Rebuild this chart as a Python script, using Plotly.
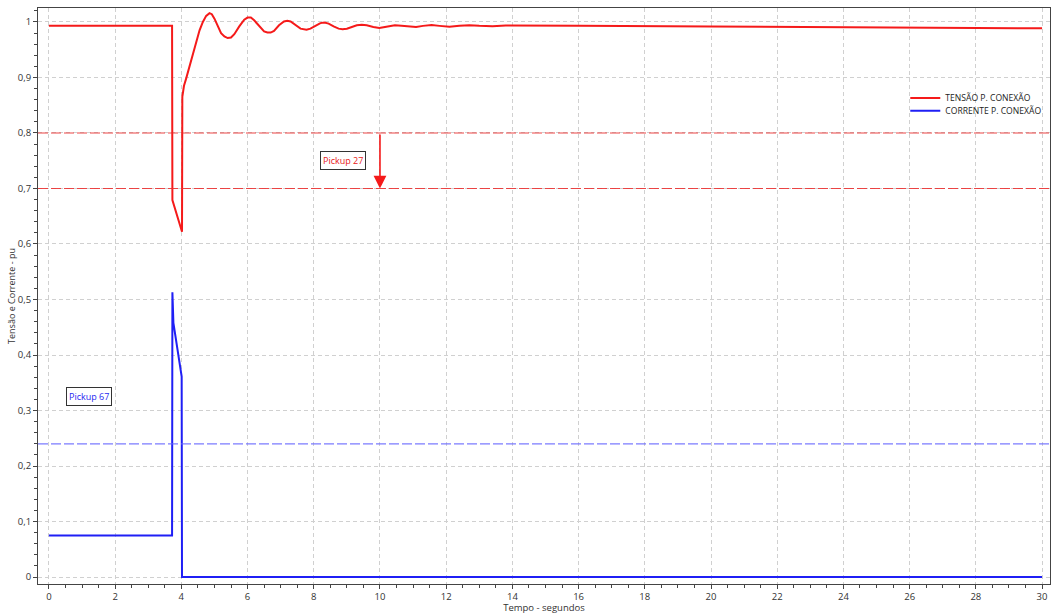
import plotly.graph_objects as go

# ---- data ----
t_voltage = [0, 3.72, 3.73, 3.8, 3.9, 4.01, 4.02, 4.03, 4.08, 4.14, 4.2, 4.26, 4.35, 4.45, 4.55, 4.65,
             4.75, 4.85, 4.92, 5.0, 5.1, 5.2, 5.3, 5.4, 5.5, 5.6, 5.75, 5.9, 6.0, 6.1, 6.2, 6.35,
             6.5, 6.6, 6.7, 6.8, 6.95, 7.1, 7.2, 7.3, 7.45, 7.6, 7.78, 7.9, 8.05, 8.2, 8.32, 8.45,
             8.6, 8.75, 8.87, 9.0, 9.15, 9.3, 9.45, 9.6, 9.8, 9.98, 10.15, 10.3, 10.45, 10.65, 10.9,
             11.09, 11.3, 11.56, 11.8, 12.1, 12.4, 12.7, 13.0, 13.4, 13.8, 14.5, 16, 20, 25, 30]
voltage = [0.993, 0.993, 0.679, 0.665, 0.645, 0.622, 0.622, 0.865, 0.885, 0.897, 0.91, 0.926, 0.945,
           0.965, 0.985, 1.0, 1.011, 1.016, 1.014, 1.006, 0.992, 0.980, 0.974, 0.971, 0.972, 0.978,
           0.992, 1.004, 1.008, 1.008, 1.003, 0.992, 0.983, 0.981, 0.981, 0.984, 0.994, 1.001, 1.002,
           1.001, 0.994, 0.988, 0.986, 0.988, 0.993, 0.998, 0.999, 0.997, 0.992, 0.988, 0.987, 0.988,
           0.991, 0.994, 0.995, 0.994, 0.991, 0.989, 0.991, 0.993, 0.994, 0.993, 0.9915, 0.991, 0.993,
           0.9945, 0.993, 0.9915, 0.993, 0.994, 0.993, 0.9925, 0.9935, 0.9935, 0.993, 0.992, 0.990, 0.9885]

t_current = [0, 3.72, 3.73, 3.76, 4.01, 4.02, 30]
current = [0.075, 0.075, 0.513, 0.458, 0.361, 0.0, 0.0]

pickup27_levels = [0.8, 0.7]
pickup67_level = 0.24
x_min, x_max = -0.33, 30.24
y_min, y_max = -0.0126, 1.0252

fig = go.Figure()

fig.add_trace(go.Scatter(x=t_voltage, y=voltage, mode="lines", name="TENSÃO P. CONEXÃO",
                         line=dict(color="#f51a1a", width=2), legend="legend"))
fig.add_trace(go.Scatter(x=t_current, y=current, mode="lines", name="CORRENTE P. CONEXÃO",
                         line=dict(color="#1f1ff5", width=2), legend="legend2"))

for lvl in pickup27_levels:
    fig.add_shape(type="line", xref="x", yref="y", x0=x_min, x1=x_max, y0=lvl, y1=lvl,
                  line=dict(color="rgba(235,50,50,0.9)", width=1.2, dash="10px,3px"), layer="above")
fig.add_shape(type="line", xref="x", yref="y", x0=x_min, x1=x_max, y0=pickup67_level, y1=pickup67_level,
              line=dict(color="rgba(100,100,255,0.85)", width=1.2, dash="10px,3px"), layer="above")

# arrow from 0.8 to 0.7 at t=10
fig.add_annotation(x=10, y=pickup27_levels[1], ax=10, ay=pickup27_levels[0], xref="x", yref="y",
                   axref="x", ayref="y", showarrow=True, arrowhead=2, arrowsize=1.6, arrowwidth=1.6,
                   arrowcolor="#f51a1a", text="")

fig.add_annotation(x=8.87, y=0.751, xref="x", yref="y", text="Pickup 27", showarrow=False,
                   font=dict(family="Open Sans", size=9, color="#e82020"),
                   bordercolor="#333333", borderwidth=1, borderpad=2, bgcolor="white")
fig.add_annotation(x=1.2, y=0.326, xref="x", yref="y", text="Pickup 67", showarrow=False,
                   font=dict(family="Open Sans", size=9, color="#2828f0"),
                   bordercolor="#333333", borderwidth=1, borderpad=2, bgcolor="white")

axis_common = dict(showline=True, linecolor="#444444", linewidth=1, mirror=True,
                   showgrid=True, gridcolor="#d0d0d0", griddash="4px,3px", gridwidth=1,
                   zeroline=False, ticks="outside", ticklen=4, tickcolor="#444444",
                   automargin=False, ticklabeloverflow="allow",
                   tickfont=dict(family="Open Sans", size=9.5, color="#333333"))

fig.update_xaxes(range=[x_min, x_max], dtick=2, tick0=0,
                 minor=dict(dtick=0.5, ticks="outside", ticklen=3, tickcolor="#444444", showgrid=False),
                 title=dict(text="Tempo - segundos", font=dict(family="Open Sans", size=9.5, color="#333333"),
                            standoff=0),
                 **axis_common)
fig.update_yaxes(range=[y_min, y_max], dtick=0.1, tick0=0,
                 minor=dict(dtick=0.02, ticks="outside", ticklen=3, tickcolor="#444444", showgrid=False),
                 title=dict(text="Tensão e Corrente - pu", font=dict(family="Open Sans", size=9, color="#333333"),
                            standoff=0),
                 **axis_common)

legend_common = dict(xanchor="left", yanchor="top", bgcolor="rgba(0,0,0,0)",
                     font=dict(family="Open Sans", size=8.6, color="#222222"), itemwidth=30)

fig.update_layout(
    width=1051, height=614,
    margin=dict(l=38, r=1, t=8, b=30),
    plot_bgcolor="white", paper_bgcolor="white",
    separators=",.",
    showlegend=True,
    legend=dict(x=0.857, y=0.869, **legend_common),
    legend2=dict(x=0.857, y=0.847, **legend_common),
)

fig.write_html("out.html", config={"displayModeBar": False},
               post_script="document.body.style.margin='0px';document.body.style.overflow='hidden';")
